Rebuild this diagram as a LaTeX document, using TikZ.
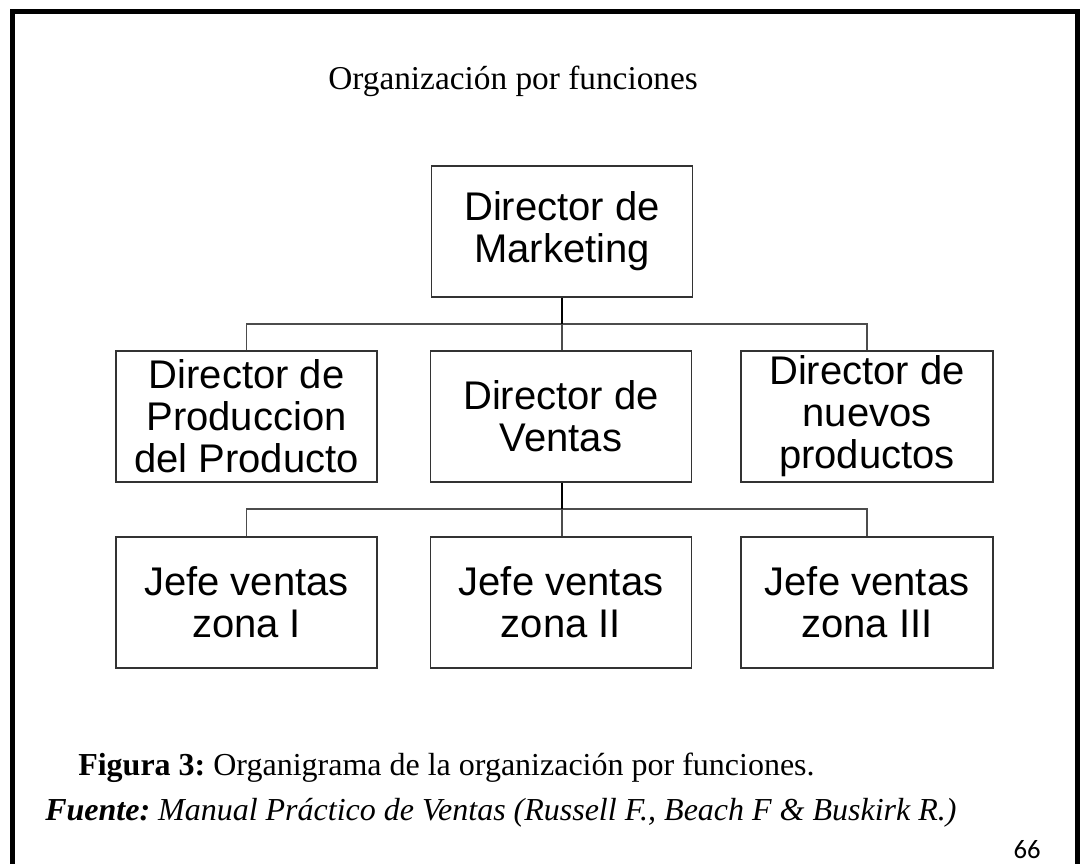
\documentclass[tikz,border=0pt]{standalone}
\usepackage{fontspec}
\setmainfont{Liberation Serif}
\newfontfamily\arialfont{Liberation Sans}
\newfontfamily\calibrifont{Carlito}
\frenchspacing

\begin{document}
\begin{tikzpicture}[x=0.75pt, y=-0.75pt,
        caja/.style={draw=black!80, line width=1.1pt, minimum width=195.75pt,
            minimum height=98.25pt, inner sep=0pt, align=center,
            font=\arialfont\fontsize{30}{31.5}\selectfont},
        rama/.style={draw=black!70, line width=1.4pt},
        tronco/.style={draw=black, line width=2.2pt},
        texto/.style={anchor=base west, inner sep=0pt}]
        \useasboundingbox (0,0) rectangle (1080,863);

        % Marco
        \draw[line width=3.75pt] (12.5,880) -- (12.5,12) -- (1077.5,12) -- (1077.5,880);

        % Titulo
        \node[texto, font=\fontsize{25}{30}\selectfont] (titulo) at (328,90) {Organización por funciones};

        % Cajas
        \node[caja] (dirmkt) at (562,231.5) {Director de\\Marketing};
        \node[caja] (dirprod) at (246.5,416.5) {Director de\\Produccion\\del Producto};
        \node[caja] (dirventas) at (561,416.5) {Director de\\Ventas};
        \node[caja, minimum width=189pt] (dirnuevos) at (867,416.5) {Director de\\nuevos\\productos};
        \node[caja] (jefe1) at (246.5,602.5) {Jefe ventas\\zona I};
        \node[caja] (jefe2) at (561,602.5) {Jefe ventas\\zona II};
        \node[caja, minimum width=189pt] (jefe3) at (867,602.5) {Jefe ventas\\zona III};

        % Lineas
        \coordinate (nudo1) at (562,324);
        \coordinate (nudo2) at (562,509);
        \draw[rama] (dirprod.north) |- (nudo1) -| (dirnuevos.north);
        \draw[rama] (nudo1) -- (nudo1 |- dirventas.north);
        \draw[tronco] (dirmkt.south) -- (nudo1);
        \draw[rama] (jefe1.north) |- (nudo2) -| (jefe3.north);
        \draw[rama] (nudo2) -- (nudo2 |- jefe2.north);
        \draw[tronco] (nudo2 |- dirventas.south) -- (nudo2);

        % Pie
        \node[texto, font=\fontsize{24}{28}\selectfont] (figura) at (78,775)
            {\textbf{Figura 3:} Organigrama de la organización por funciones.};
        \node[texto, font=\fontsize{24}{28}\selectfont\itshape] (fuente) at (45,820)
            {\textbf{Fuente:} Manual Práctico de Ventas (Russell F., Beach F \& Buskirk R.)};
        \node[anchor=base east, inner sep=0pt, font=\calibrifont\fontsize{20}{24}\selectfont] (pagina) at (1041,858) {66};
\end{tikzpicture}
\end{document}
